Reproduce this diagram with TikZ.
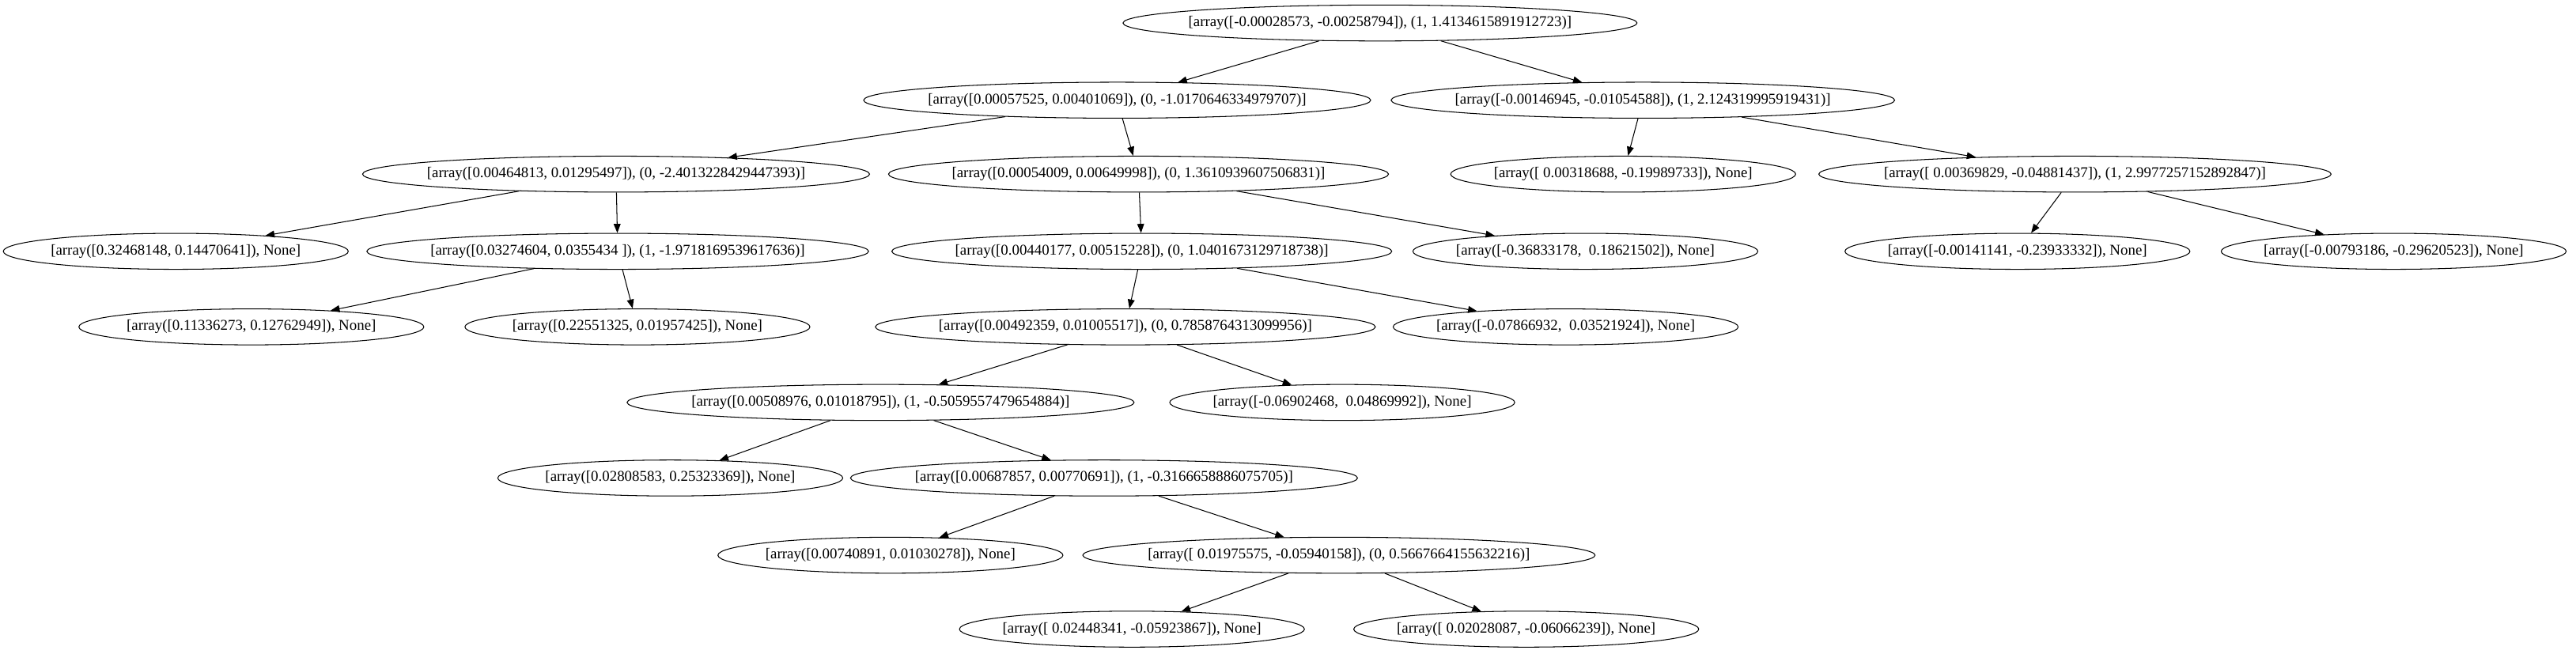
\documentclass[tikz,border=0pt]{standalone}
\usepackage{fontspec}
\setmainfont{Liberation Serif}
\usetikzlibrary{shapes.geometric, arrows.meta}

\begin{document}
\begin{tikzpicture}[
			x=1pt, y=-1pt,
			every node/.style = {
				ellipse,
				draw=black,
				line width=0.5pt,
				font=\fontsize{9.1}{11}\selectfont,
				minimum width=210pt,
				inner xsep=-6pt,
				inner ysep=3.6pt
			},
			flecha/.style = {-{Triangle[length=5.5pt, width=4.2pt]}, line width=0.5pt}
			]
			\useasboundingbox (0,0) rectangle (1568,398);
			
			% nivel 0 y 1
			\node (root) at (840,14) {[array([-0.00028573, -0.00258794]), (1, 1.4134615891912723)]};
			\node (l) at (680,61) {[array([0.00057525, 0.00401069]), (0, -1.0170646334979707)]};
			\node (r) at (1000,61) {[array([-0.00146945, -0.01054588]), (1, 2.124319995919431)]};
			
			% nivel 2
			\node (ll) at (375,106) {[array([0.00464813, 0.01295497]), (0, -2.4013228429447393)]};
			\node (lr) at (693,106) {[array([0.00054009, 0.00649998]), (0, 1.3610939607506831)]};
			\node (rl) at (988,106) {[array([ 0.00318688, -0.19989733]), None]};
			\node (rr) at (1263,106) {[array([ 0.00369829, -0.04881437]), (1, 2.9977257152892847)]};
			
			% nivel 3
			\node (lll) at (107,153) {[array([0.32468148, 0.14470641]), None]};
			\node (llr) at (376,153) {[array([0.03274604, 0.0355434 ]), (1, -1.9718169539617636)]};
			\node (lrl) at (695,153) {[array([0.00440177, 0.00515228]), (0, 1.0401673129718738)]};
			\node (lrr) at (965,153) {[array([-0.36833178, \ 0.18621502]), None]};
			\node (rrl) at (1228,153) {[array([-0.00141141, -0.23933332]), None]};
			\node (rrr) at (1457,153) {[array([-0.00793186, -0.29620523]), None]};
			
			% nivel 4
			\node (llrl) at (153,199) {[array([0.11336273, 0.12762949]), None]};
			\node (llrr) at (388,199) {[array([0.22551325, 0.01957425]), None]};
			\node (lrll) at (685,199) {[array([0.00492359, 0.01005517]), (0, 0.7858764313099956)]};
			\node (lrlr) at (953,199) {[array([-0.07866932, \ 0.03521924]), None]};
			
			% niveles 5 a 8
			\node (lrlll) at (536,245) {[array([0.00508976, 0.01018795]), (1, -0.5059557479654884)]};
			\node (lrllr) at (817,245) {[array([-0.06902468, \ 0.04869992]), None]};
			\node (lrllll) at (408,291) {[array([0.02808583, 0.25323369]), None]};
			\node (lrlllr) at (672,291) {[array([0.00687857, 0.00770691]), (1, -0.3166658886075705)]};
			\node (lrlllrl) at (542,338) {[array([0.00740891, 0.01030278]), None]};
			\node (lrlllrr) at (815,338) {[array([ 0.01975575, -0.05940158]), (0, 0.5667664155632216)]};
			\node (lrlllrrl) at (689,383) {[array([ 0.02448341, -0.05923867]), None]};
			\node (lrlllrrr) at (929,383) {[array([ 0.02028087, -0.06066239]), None]};
			
			\draw[flecha] (root) -- (l);
			\draw[flecha] (root) -- (r);
			\draw[flecha] (l) -- (ll);
			\draw[flecha] (l) -- (lr);
			\draw[flecha] (r) -- (rl);
			\draw[flecha] (r) -- (rr);
			\draw[flecha] (ll) -- (lll);
			\draw[flecha] (ll) -- (llr);
			\draw[flecha] (lr) -- (lrl);
			\draw[flecha] (lr) -- (lrr);
			\draw[flecha] (rr) -- (rrl);
			\draw[flecha] (rr) -- (rrr);
			\draw[flecha] (llr) -- (llrl);
			\draw[flecha] (llr) -- (llrr);
			\draw[flecha] (lrl) -- (lrll);
			\draw[flecha] (lrl) -- (lrlr);
			\draw[flecha] (lrll) -- (lrlll);
			\draw[flecha] (lrll) -- (lrllr);
			\draw[flecha] (lrlll) -- (lrllll);
			\draw[flecha] (lrlll) -- (lrlllr);
			\draw[flecha] (lrlllr) -- (lrlllrl);
			\draw[flecha] (lrlllr) -- (lrlllrr);
			\draw[flecha] (lrlllrr) -- (lrlllrrl);
			\draw[flecha] (lrlllrr) -- (lrlllrrr);
			
		\end{tikzpicture}
\end{document}
